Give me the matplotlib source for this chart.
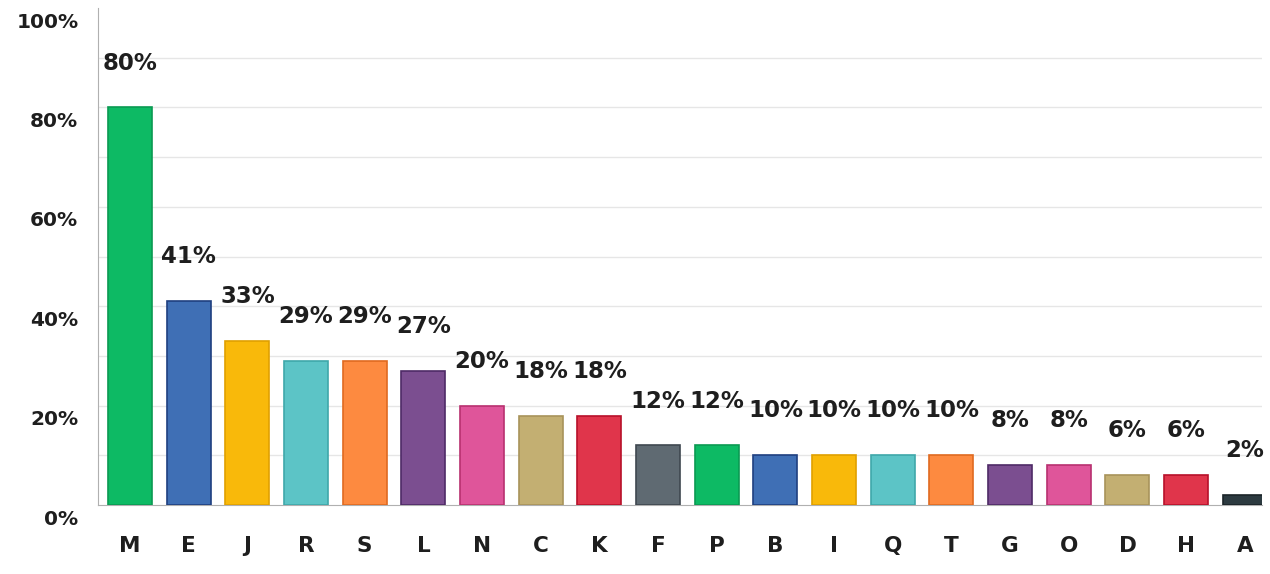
import numpy as np
import matplotlib.pyplot as plt
import matplotlib.transforms as mtransforms

categories = ['M', 'E', 'J', 'R', 'S', 'L', 'N', 'C', 'K', 'F',
              'P', 'B', 'I', 'Q', 'T', 'G', 'O', 'D', 'H', 'A']
values = [80, 41, 33, 29, 29, 27, 20, 18, 18, 12,
          12, 10, 10, 10, 10, 8, 8, 6, 6, 2]
palette = ['#0dba64', '#3f6fb5', '#f9b90a', '#5cc4c6', '#fd8a40',
           '#7b4e90', '#df559a', '#c3af72', '#e0354b', '#5f6a72']
edge_palette = ['#0a9a52', '#1f3f80', '#e0a000', '#3fa8aa', '#e06a20',
                '#4e2a66', '#b8306f', '#a8935a', '#b8102a', '#3f4850']
y_ticks = [0, 20, 40, 60, 80, 100]
grid_lines = [10, 20, 30, 40, 50, 60, 70, 80, 90]

colors = [palette[i % 10] for i in range(len(categories))]
edges = [edge_palette[i % 10] for i in range(len(categories))]
colors[-1] = '#2c3a40'
edges[-1] = '#1a2428'

plt.rcParams['font.family'] = ['DejaVu Sans']

fig, ax = plt.subplots(figsize=(12.7, 5.74), dpi=100)
fig.subplots_adjust(left=0.077, right=0.994, top=0.986, bottom=0.12)

x = np.arange(len(categories))
ax.bar(x, values, width=0.75, color=colors, edgecolor=edges, linewidth=1.2, zorder=3)

for xi, v in zip(x, values):
    ax.annotate(f'{v}%', (xi, v), xytext=(0, 32), textcoords='offset points',
                ha='center', va='center', fontsize=16.5, fontweight='bold', color='#1e1e1e')

# light gridlines (none on the 100% line)
for g in grid_lines:
    ax.axhline(g, color='#e6e6e6', linewidth=1, zorder=0)

ax.set_xlim(-0.55, 19.3)
ax.set_ylim(0, 100)
ax.set_yticks(y_ticks)
ax.set_yticklabels([f'{t}%' for t in y_ticks], fontsize=14.5, fontweight='bold', color='#1e1e1e')
ax.tick_params(axis='y', length=0, pad=14)
ax.tick_params(axis='x', length=0, pad=22)
ax.set_xticks(x)
ax.set_xticklabels(categories, fontsize=15.5, fontweight='bold', color='#1e1e1e')

# shift y tick labels a little below their gridlines like the original
offset = mtransforms.ScaledTranslation(0, -12 / 100, fig.dpi_scale_trans)
for lab in ax.get_yticklabels():
    lab.set_transform(lab.get_transform() + offset)

ax.spines['top'].set_visible(False)
ax.spines['right'].set_visible(False)
ax.spines['left'].set_color('#b0b0b0')
ax.spines['bottom'].set_color('#b0b0b0')

plt.savefig('out.png', dpi=100)
